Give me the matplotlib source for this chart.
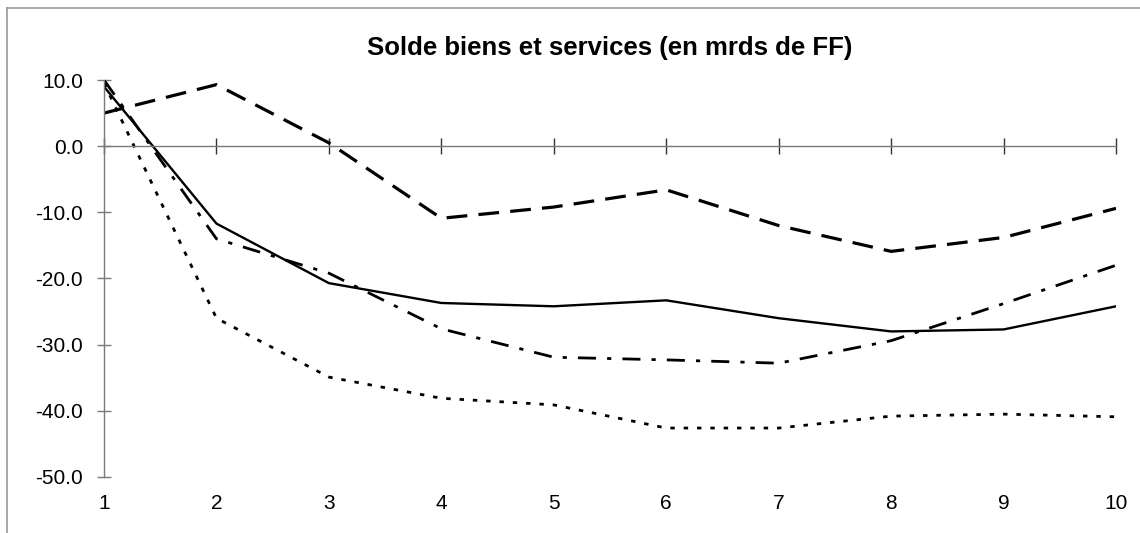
import matplotlib
matplotlib.use("Agg")
import matplotlib.pyplot as plt
from matplotlib.lines import Line2D

plt.rcParams["font.family"] = ["Liberation Sans", "DejaVu Sans"]

periods = [1, 2, 3, 4, 5, 6, 7, 8, 9, 10]
solid = [9.0, -11.7, -20.7, -23.7, -24.2, -23.3, -26.0, -28.0, -27.7, -24.2]
long_dash = [5.0, 9.3, 0.5, -10.9, -9.2, -6.6, -12.0, -15.9, -13.8, -9.4]
dash_dot = [10.0, -14.0, -19.2, -27.6, -31.9, -32.3, -32.8, -29.4, -23.8, -18.0]
dotted = [9.5, -26.0, -34.9, -38.1, -39.1, -42.6, -42.6, -40.8, -40.5, -40.9]
y_ticks = [10, 0, -10, -20, -30, -40, -50]

W, H = 1140, 533
fig = plt.figure(figsize=(W / 100, H / 100), dpi=100)
ax = fig.add_axes([104 / W, 1 - 477 / H, (1116 - 104) / W, (477 - 80) / H])

ax.plot(periods, solid, color="black", lw=1.7, solid_joinstyle="miter")
ax.plot(periods, long_dash, color="black", lw=2.3, dashes=(6.5, 3.5))
ax.plot(periods, dash_dot, color="black", lw=2.0, dashes=(6.5, 4, 1.5, 4))
ax.plot(periods, dotted, color="black", lw=2.0, dashes=(1.6, 3.2))

ax.set_xlim(1, 10)
ax.set_ylim(-50, 10)
ax.set_yticks(y_ticks)
ax.set_yticklabels([f"{v:.1f}" for v in y_ticks])
ax.set_xticks(periods)

axis_grey = "#7a7a7a"
for side in ["top", "right"]:
    ax.spines[side].set_visible(False)
ax.spines["left"].set_color(axis_grey)
ax.spines["left"].set_linewidth(1.0)
ax.spines["bottom"].set_position(("data", 0))
ax.spines["bottom"].set_color(axis_grey)
ax.spines["bottom"].set_linewidth(1.0)

ax.tick_params(axis="y", direction="inout", length=10, width=1.0, color=axis_grey,
               labelsize=15, pad=10)
ax.tick_params(axis="x", direction="inout", length=12, width=1.0, color="#333333",
               labelbottom=False)

# tick labels for the x axis sit below the plot area
sec = ax.secondary_xaxis(0)
sec.set_xticks(periods)
sec.spines["bottom"].set_visible(False)
sec.tick_params(axis="x", length=0, labelsize=15, pad=12)

ax.set_title("Solde biens et services (en mrds de FF)", fontsize=18.5,
             fontweight="bold", pad=18)

# outer frame
fig.add_artist(Line2D([7 / W, 7 / W], [0, 1 - 8 / H], transform=fig.transFigure,
                      color="#9a9a9a", lw=1.2))
fig.add_artist(Line2D([7 / W, 1], [1 - 8 / H, 1 - 8 / H], transform=fig.transFigure,
                      color="#9a9a9a", lw=1.2))

fig.savefig("out.png", dpi=100)
